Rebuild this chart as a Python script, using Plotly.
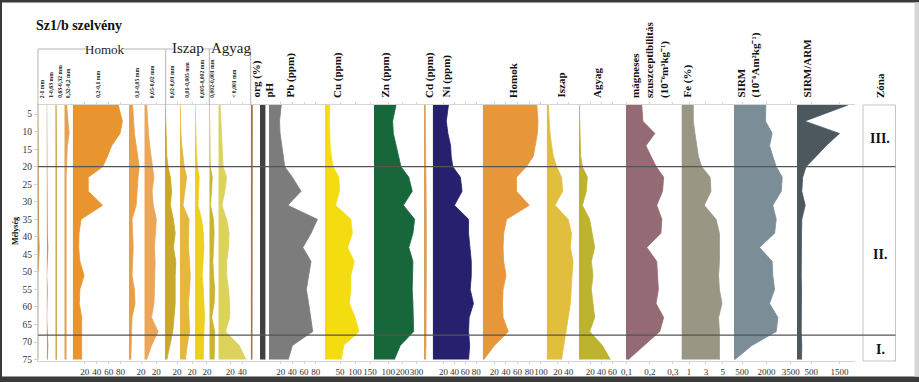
import plotly.graph_objects as go

# ---------------- data ----------------
depth = [2.4, 7, 10.5, 14, 17, 20, 23, 27, 31, 35, 39, 43, 47, 51, 55, 59, 63, 67, 71, 75]

f_2_1       = [0, 0, 0, 0, 0, 0, 0, 0, 0, 0, 1, 2, 0.5, 0, 0, 0, 0, 0, 0, 0]
f_1_063     = [0, 0, 0, 0, 0, 0, 0, 0, 0, 0, 1, 2, 0.5, 0, 1, 0.5, 0, 1, 2, 1]
f_063_032   = [1.5, 2, 2, 2, 2, 2, 2, 2, 2, 2, 2, 2, 2, 2, 2, 2, 2, 2, 2, 2]
f_032_02    = [4, 6, 8, 5, 4, 3, 3, 3, 3, 3, 3, 3, 3, 3, 3, 3, 3, 3, 3, 3]
f_02_01     = [76, 83, 79, 65, 58, 50, 26, 26, 50, 14, 10.5, 10, 12, 19, 12, 11, 15, 15, 15, 15]
f_01_005    = [6, 7, 9, 12, 15, 17, 15, 13, 12, 5, 6, 7, 6, 5, 9, 10, 5, 4, 3, 3]
f_005_002   = [4, 5, 7, 9, 11, 13, 16, 13, 15, 20, 19, 17, 18, 18, 17, 16, 12, 23, 12, 4]
f_002_001   = [0.5, 1, 1.5, 2, 3, 5, 9, 11, 9, 14, 17, 14, 18, 17, 17, 17, 15, 13, 8, 3]
f_001_0005  = [0.3, 0.5, 1.5, 3, 5, 7, 11, 8, 5, 15, 14, 14, 16, 17, 16, 14, 15, 16, 12, 9]
f_0005_0002 = [0.3, 0.5, 1, 2, 3, 4, 7, 6, 5, 11, 14, 15, 13, 12, 14, 15, 16, 15, 15, 14]
f_0002_0001 = [0.3, 0.3, 0.5, 0.8, 1, 1.5, 5, 4, 2, 7, 8, 7, 6, 7, 9, 8, 4, 9, 9, 8]
f_lt0001    = [3, 4, 5, 6, 7, 8, 14, 11, 6, 14, 18, 17, 14, 14, 17, 19, 19, 12, 35, 46]
org_pct     = [2, 2, 2, 1.9, 1.8, 1.8, 1.7, 1.7, 1.6, 1.6, 1.6, 1.6, 1.6, 1.6, 1.6, 1.6, 1.6, 1.6, 1.6, 1.6]
ph          = [7.5, 7.5, 7.5, 7.5, 7.5, 7.5, 7.5, 7.5, 7.5, 7.5, 7.5, 7.5, 7.5, 7.5, 7.5, 7.5, 7.5, 7.5, 7.5, 7.5]
pb          = [21, 18, 19, 22, 24, 27, 40, 55, 32, 83, 72, 58, 72, 68, 64, 68, 72, 75, 40, 33]
cu          = [16, 14, 16, 17, 21, 27, 46, 48, 35, 86, 91, 75, 97, 86, 86, 81, 100, 113, 62, 54]
zn          = [155, 131, 136, 155, 174, 190, 245, 269, 207, 286, 274, 245, 274, 269, 269, 274, 279, 279, 185, 143]
cd          = [1.5, 1.5, 1.5, 1.8, 2, 2.2, 2.5, 2.8, 2.6, 3, 3, 3, 3, 3, 3, 3, 3, 3, 2.5, 2]
ni          = [29, 25, 28, 33, 34, 37, 51, 54, 40, 66, 66, 69, 71, 71, 69, 75, 67, 66, 68, 66]
homok       = [93, 95, 94, 90, 87, 75, 58, 58, 80, 41, 36, 35, 36, 40, 35, 34, 35, 44, 20, 2]
iszap       = [3, 5, 6, 9, 12, 18, 27, 29, 15, 39, 45, 43, 48, 46, 44, 43, 39, 35, 31, 27]
agyag       = [0.5, 1, 1, 1.5, 3, 6, 15, 13, 6, 19, 24, 28, 22, 25, 22, 25, 28, 19, 42, 56]
mag_susc    = [0.165, 0.170, 0.222, 0.183, 0.205, 0.228, 0.260, 0.255, 0.230, 0.252, 0.248, 0.187, 0.230, 0.232, 0.237, 0.227, 0.260, 0.243, 0.175, 0.107]
fe          = [1.5, 1.5, 1.7, 1.9, 2.1, 2.5, 3.5, 3.6, 2.8, 4.2, 4.6, 4.6, 4.6, 4.5, 4.6, 4.9, 4.5, 4.6, 4.6, 4.6]
sirm        = [1960, 1940, 2350, 2190, 2390, 2600, 2970, 2910, 2390, 2600, 2500, 1570, 2350, 2390, 2500, 2190, 2700, 2600, 1100, 50]
sirm_arm    = [1800, 270, 1500, 1030, 680, 320, 200, 170, 290, 170, 160, 150, 160, 150, 160, 150, 160, 150, 170, 160]

zone_bounds = [20, 68]
zone_labels = ["III.", "II.", "I."]
zone_label_depth = [12, 45, 72]

# ---------------- geometry helpers ----------------
W, H = 919, 382
L, R, T, B = 38, 23, 105, 21
PW = W - L - R
PH = H - T - B
def px(x): return (x - L) / PW
def py(y): return (H - B - y) / PH

SERIF = "Liberation Serif, Times New Roman, serif"

# (values, fill colour, left px, right px, range, tickvals, ticktext)
panels = [
    (f_2_1,       "#B8905A", 38.0, 46.7, [0, 14.5], [], []),
    (f_1_063,     "#B8905A", 46.7, 55.3, [0, 14.3], [], []),
    (f_063_032,   "#C9A040", 55.3, 64.3, [0, 15], [], []),
    (f_032_02,    "#E9A050", 64.3, 72.7, [0, 14], [], []),
    (f_02_01,     "#E8952F", 72.7, 129.0, [0, 94], [20, 40, 60, 80], None),
    (f_01_005,    "#E99F45", 129.0, 144.3, [0, 25.5], [20], None),
    (f_005_002,   "#EBA65A", 144.3, 165.0, [0, 34.5], [20], None),
    (f_002_001,   "#C9A92A", 165.0, 180.0, [0, 25], [20], None),
    (f_001_0005,  "#E3B83C", 180.0, 195.0, [0, 25], [20], None),
    (f_0005_0002, "#EDCF1E", 195.0, 209.3, [0, 24], [20], None),
    (f_0002_0001, "#C9B52E", 209.3, 218.3, [0, 15], [], []),
    (f_lt0001,    "#DCD35C", 218.3, 250.7, [0, 54], [20, 40], None),
    (org_pct,     "#A0784A", 250.7, 260.0, [0, 11], [], []),
    (ph,          "#404040", 260.0, 269.0, [0, 13.5], [], []),
    (pb,          "#7C7C7C", 269.0, 325.0, [0, 96], [20, 40, 60, 80], None),
    (cu,          "#F3DD10", 325.0, 374.0, [0, 163], [50, 100, 150], None),
    (zn,          "#17673A", 374.0, 424.0, [0, 352], [100, 200, 300], None),
    (cd,          "#D9A05A", 424.0, 432.7, [0, 11], [], []),
    (ni,          "#27206F", 432.7, 482.7, [0, 92], [20, 40, 60, 80], None),
    (homok,       "#E8963A", 482.7, 546.7, [0, 110], [20, 40, 60, 80, 100], None),
    (iszap,       "#E2BE3E", 546.7, 579.0, [0, 58.7], [20, 40], None),
    (agyag,       "#BDB32E", 579.0, 626.0, [0, 84], [20, 40, 60], None),
    (mag_susc,    "#946B75", 626.0, 681.7, [0.097, 0.338], [0.1, 0.2, 0.3], ["0,1", "0,2", "0,3"]),
    (fe,          "#999683", 681.7, 734.0, [0.13, 6.33], [1, 3, 5], None),
    (sirm,        "#7B8D96", 734.0, 797.0, [0, 3880], [500, 2000, 3500], None),
    (sirm_arm,    "#4C575E", 797.0, 855.0, [0, 2050], [500, 1500], None),
]

fig = go.Figure()
layout = {}
for i, (vals, col, lft, rgt, rng, tv, tt) in enumerate(panels):
    suffix = "" if i == 0 else str(i + 1)
    fig.add_trace(go.Scatter(
        x=vals, y=depth, xaxis="x" + suffix, yaxis="y",
        mode="lines", fill="tozerox", fillcolor=col,
        line=dict(color=col, width=0.8), hoverinfo="skip", showlegend=False))
    layout["xaxis" + suffix] = dict(
        domain=[px(lft), px(rgt)], range=rng, anchor="y",
        showgrid=False, zeroline=False, showline=True, linecolor="#d4d4d4",
        linewidth=1, mirror="ticks", ticks="outside", ticklen=2, tickcolor="#d4d4d4",
        tickangle=0, automargin=False,
        tickvals=tv, ticktext=tt if tt is not None else [str(v) for v in tv],
        tickfont=dict(family=SERIF, size=9, color="#333"), fixedrange=True)

layout["yaxis"] = dict(
    domain=[0, 1], range=[75.4, 2.4], anchor="x", automargin=False,
    tickvals=list(range(5, 80, 5)), ticks="outside", ticklen=3, tickcolor="#cfcfcf",
    showline=True, linecolor="#cfcfcf", showgrid=False, zeroline=False,
    tickfont=dict(family=SERIF, size=9.5, color="#333"), fixedrange=True)

shapes = []
# outer frame
shapes += [
    dict(type="rect", xref="paper", yref="paper", x0=px(0), x1=px(W), y0=py(2.5), y1=py(0),
         fillcolor="#3a3a3a", line=dict(width=0), layer="below"),
    dict(type="rect", xref="paper", yref="paper", x0=px(0), x1=px(2), y0=py(H), y1=py(0),
         fillcolor="#3a3a3a", line=dict(width=0), layer="below"),
    dict(type="rect", xref="paper", yref="paper", x0=px(0), x1=px(W), y0=py(H), y1=py(376.5),
         fillcolor="#3a3a3a", line=dict(width=0), layer="below"),
    dict(type="rect", xref="paper", yref="paper", x0=px(914.5), x1=px(W), y0=py(376.5), y1=py(2.5),
         fillcolor="#d6d6d6", line=dict(width=0), layer="below"),
]
# Zona box
shapes.append(dict(type="rect", xref="paper", yref="paper", x0=px(863), x1=px(895.5), y0=0, y1=1,
                   line=dict(color="#c4c4c4", width=1), fillcolor="rgba(0,0,0,0)"))
# zone boundaries
for zb in zone_bounds:
    shapes.append(dict(type="line", xref="paper", yref="y", x0=px(38), x1=px(895.5), y0=zb, y1=zb,
                       line=dict(color="#555555", width=1.3), layer="above"))
# grain-size group brackets
gy = py(49)
seg_color = "#b5b5b5"
for x0, x1 in [(38, 87), (123, 173), (203, 213), (248, 250.7)]:
    shapes.append(dict(type="line", xref="paper", yref="paper", x0=px(x0), x1=px(x1), y0=gy, y1=gy,
                       line=dict(color=seg_color, width=1)))
for xv in [38, 165.7, 209.3, 250.7]:
    shapes.append(dict(type="line", xref="paper", yref="paper", x0=px(xv), x1=px(xv), y0=gy, y1=py(105),
                       line=dict(color=seg_color, width=1)))

ann = []
def rot(text, xc, size, align="left"):
    ann.append(dict(text=text, x=px(xc), y=py(100), xref="paper", yref="paper",
                    xanchor="center", yanchor="bottom", textangle=-90, showarrow=False,
                    align=align, font=dict(family=SERIF, size=size, color="#111")))

small = [("2-1 mm", 41.7), ("1-0,63 mm", 50.7), ("0,63-0,32 mm", 59.3), ("0,32-0,2 mm", 68.3),
         ("0,2-0,1 mm", 97.3), ("0,1-0,05 mm", 136.7), ("0,05-0,02 mm", 151.7),
         ("0,02-0,01 mm", 171.7), ("0,01-0,005 mm", 186.7), ("0,005-0,002 mm", 201.7),
         ("0,002-0,001 mm", 211.3), ("< 0,001 mm", 233.3)]
for t, xc in small:
    rot("<b>" + t + "</b>", xc, 5.7)

big = [("org (%)", 256), ("pH", 268), ("Pb (ppm)", 290), ("Cu (ppm)", 337), ("Zn (ppm)", 385),
       ("Cd (ppm)", 429), ("Ni (ppm)", 446), ("Homok", 513), ("Iszap", 560), ("Agyag", 597),
       ("mágneses<br>szuszceptibilitás<br>(10⁻⁶m³kg⁻¹)", 650), ("Fe (%)", 687),
       ("SIRM<br>(10⁻⁶Am²kg⁻¹)", 748), ("SIRM/ARM", 806), ("Zóna", 879.5)]
for t, xc in big:
    rot("<b>" + t.replace("<br>", "</b><br><b>") + "</b>", xc, 11)

# group labels
for t, xc, yc, sz in [("Homok", 105, 49, 13), ("Iszap", 188, 48, 15), ("Agyag", 230.5, 48, 15)]:
    ann.append(dict(text=t, x=px(xc), y=py(yc), xref="paper", yref="paper", xanchor="center",
                    yanchor="middle", showarrow=False, font=dict(family=SERIF, size=sz, color="#222")))
# title
ann.append(dict(text="<b>Sz1/b szelvény</b>", x=px(34), y=py(25), xref="paper", yref="paper",
                xanchor="left", yanchor="middle", showarrow=False,
                font=dict(family=SERIF, size=14, color="#111")))
# y title
ann.append(dict(text="<b>Mélység</b>", x=px(15), y=py(231), xref="paper", yref="paper",
                xanchor="center", yanchor="middle", textangle=-90, showarrow=False,
                font=dict(family=SERIF, size=8, color="#111")))
# zone labels
for t, d in zip(zone_labels, zone_label_depth):
    ann.append(dict(text="<b>" + t + "</b>", x=px(880), y=d, xref="paper", yref="y",
                    xanchor="center", yanchor="middle", showarrow=False,
                    font=dict(family=SERIF, size=14, color="#111")))

fig.update_layout(
    width=W, height=H, margin=dict(l=L, r=R, t=T, b=B, pad=0, autoexpand=False),
    paper_bgcolor="white", plot_bgcolor="white", showlegend=False,
    shapes=shapes, annotations=ann, hovermode=False, **layout)

fig.write_html("out.html", config={"displayModeBar": False},
               post_script="document.body.style.margin='0px';document.body.style.overflow='hidden';")
